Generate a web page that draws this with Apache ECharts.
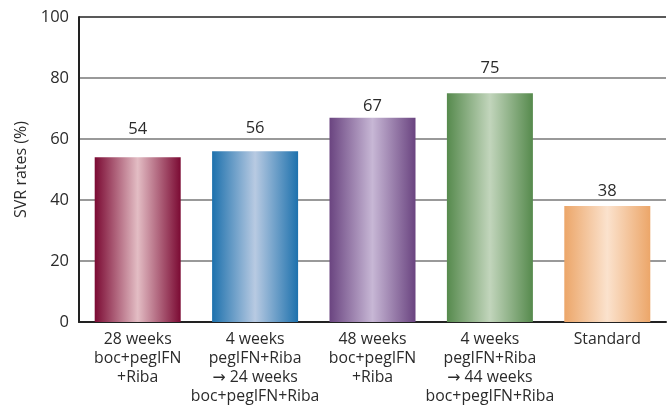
<!DOCTYPE html>
<html>
<head>
<meta charset="utf-8">
<style>
  html, body { margin: 0; padding: 0; background: #fff; }
  #chart { width: 669px; height: 409px; }
</style>
<script src="https://cdn.jsdelivr.net/npm/echarts@6/dist/echarts.min.js"></script>
</head>
<body>
<div id="chart"></div>
<script>
// Treatment regimens and their sustained virological response rates (%)
const categories = [
  '28 weeks\nboc+pegIFN\n+Riba',
  '4 weeks\npegIFN+Riba\n→ 24 weeks\nboc+pegIFN+Riba',
  '48 weeks\nboc+pegIFN\n+Riba',
  '4 weeks\npegIFN+Riba\n→ 44 weeks\nboc+pegIFN+Riba',
  'Standard'
];
const svrRates = [54, 56, 67, 75, 38];
const yTicks = { min: 0, max: 100, step: 20 };
const yAxisTitle = 'SVR rates (%)';

// Per-bar look: gradient edge/centre colours and label offset above the bar
const barLooks = [
  { edge: '#7b0a33', mid: '#e3bdc4', gap: 20 },
  { edge: '#1d71ad', mid: '#b8cae2', gap: 14 },
  { edge: '#6a4480', mid: '#c7b7d5', gap: 3 },
  { edge: '#568a4d', mid: '#c2d5bc', gap: 16 },
  { edge: '#eca669', mid: '#fbe2cd', gap: 6 }
];

const FONT = '"Open Sans", "Noto Sans", "DejaVu Sans", sans-serif';
const TEXT = '#2b2b2b';

function shaded(look) {
  return new echarts.graphic.LinearGradient(0, 0, 1, 0, [
    { offset: 0, color: look.edge },
    { offset: 0.5, color: look.mid },
    { offset: 1, color: look.edge }
  ]);
}

const chart = echarts.init(document.getElementById('chart'), null, { renderer: 'canvas' });

chart.setOption({
  animation: false,
  backgroundColor: '#ffffff',
  grid: { left: 79, right: 3, top: 17, bottom: 87, containLabel: false },
  xAxis: {
    type: 'category',
    data: categories,
    axisLine: { show: true, lineStyle: { color: '#222', width: 2 } },
    axisTick: { show: false },
    splitLine: { show: false },
    axisLabel: {
      interval: 0,
      margin: 8,
      color: TEXT,
      fontFamily: FONT,
      fontSize: 15.8,
      lineHeight: 19,
      align: 'center'
    }
  },
  yAxis: {
    type: 'value',
    min: yTicks.min,
    max: yTicks.max,
    interval: yTicks.step,
    name: yAxisTitle,
    nameLocation: 'middle',
    nameGap: 41,
    nameRotate: 90,
    nameTextStyle: { color: TEXT, fontFamily: FONT, fontSize: 16 },
    axisLine: { show: true, lineStyle: { color: '#222', width: 2 } },
    axisTick: { show: false },
    axisLabel: { color: TEXT, fontFamily: FONT, fontSize: 16.5, margin: 10 },
    splitLine: {
      show: true,
      lineStyle: {
        color: ['#777', '#777', '#777', '#777', '#777', '#222'],
        width: 1.5
      }
    }
  },
  series: [{
    type: 'bar',
    barWidth: 86,
    data: svrRates.map((v, i) => ({
      value: v,
      itemStyle: { color: shaded(barLooks[i]) },
      label: { distance: barLooks[i].gap }
    })),
    label: {
      show: true,
      position: 'top',
      color: TEXT,
      fontFamily: FONT,
      fontSize: 16.5
    }
  }]
});
</script>
</body>
</html>
